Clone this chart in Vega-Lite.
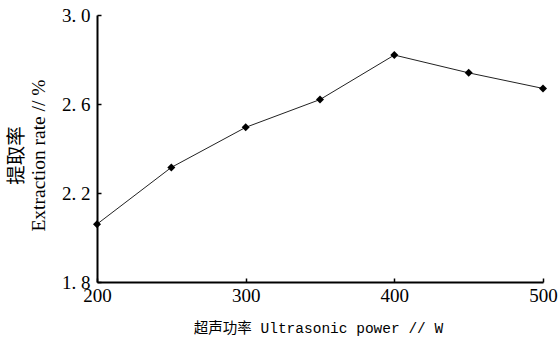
{
  "$schema": "https://vega.github.io/schema/vega-lite/v6.json",
  "autosize": "none",
  "width": 446,
  "height": 267,
  "padding": {"left": 97, "top": 15, "right": 16, "bottom": 59},
  "background": "white",
  "config": {"view": {"stroke": null}},
  "data": {"values": [
    {"power": 200, "rate": 2.06},
    {"power": 250, "rate": 2.315},
    {"power": 300, "rate": 2.495},
    {"power": 350, "rate": 2.62},
    {"power": 400, "rate": 2.82},
    {"power": 450, "rate": 2.74},
    {"power": 500, "rate": 2.67}
  ]},
  "encoding": {
    "x": {"field": "power", "type": "quantitative",
      "scale": {"domain": [200, 500], "nice": false, "zero": false},
      "axis": {"values": [200, 300, 400, 500], "grid": false, "format": "d",
        "domainColor": "black", "domainWidth": 2, "tickColor": "black", "tickWidth": 1.5, "tickSize": -4,
        "labelFont": "Liberation Serif", "labelFontSize": 19, "labelColor": "black", "labelPadding": 8,
        "labelFlush": false,
        "title": "超声功率 Ultrasonic power // W", "titleFont": "Liberation Mono, Noto Sans CJK SC",
        "titleFontSize": 14.5, "titleFontWeight": "normal", "titleColor": "black",
        "titleX": 221, "titleY": 46, "titleBaseline": "middle", "titleAlign": "center"}},
    "y": {"field": "rate", "type": "quantitative",
      "scale": {"domain": [1.8, 3.0], "nice": false, "zero": false},
      "axis": {"values": [1.8, 2.2, 2.6, 3.0], "grid": false,
        "labelExpr": "replace(format(datum.value, '.1f'), '.', '. ')",
        "domainColor": "black", "domainWidth": 2, "tickColor": "black", "tickWidth": 1.5, "tickSize": -4,
        "labelFont": "Liberation Serif", "labelFontSize": 19, "labelColor": "black", "labelPadding": 11,
        "labelFlush": false,
        "title": ["提取率", "Extraction rate // %"], "titleFont": "Liberation Serif, Noto Sans CJK SC",
        "titleFontSize": 19.5, "titleFontWeight": "normal", "titleColor": "black", "titleLineHeight": 22,
        "titleX": -81, "titleY": 140, "titleBaseline": "middle", "titleAlign": "center", "titleAngle": -90}}
  },
  "layer": [
    {"mark": {"type": "line", "color": "#222", "strokeWidth": 1}},
    {"mark": {"type": "point", "shape": "diamond", "filled": true, "color": "black", "size": 64, "opacity": 1}}
  ]
}
